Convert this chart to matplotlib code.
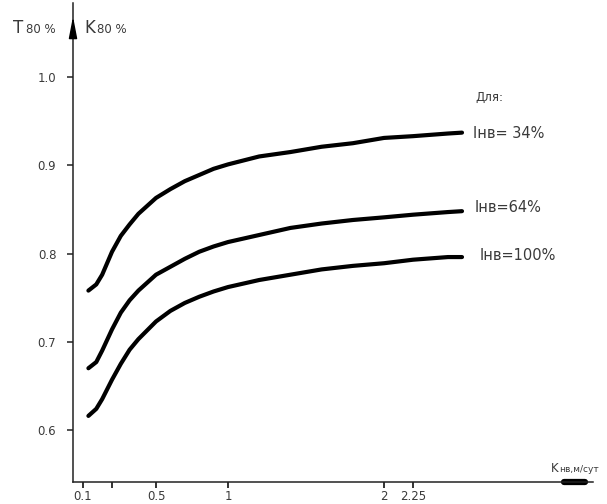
import numpy as np
import matplotlib
matplotlib.use('Agg')
import matplotlib.pyplot as plt

plt.rcParams['font.family'] = ['DejaVu Sans']

# K_nv, m/day (hand-drawn axis, marks are not evenly spaced)
k_nv = [0.13, 0.17, 0.2, 0.25, 0.3, 0.35, 0.4, 0.5, 0.6, 0.7, 0.8, 0.9,
        1.0, 1.2, 1.4, 1.6, 1.8, 2.0, 2.25, 2.5, 2.6]

t80_34 = [0.758, 0.765, 0.776, 0.802, 0.820, 0.833, 0.845, 0.863, 0.873, 0.882, 0.889,
          0.896, 0.901, 0.910, 0.915, 0.921, 0.925, 0.931, 0.933, 0.936, 0.937]
t80_64 = [0.670, 0.677, 0.690, 0.714, 0.733, 0.747, 0.758, 0.776, 0.785, 0.794, 0.802,
          0.808, 0.813, 0.821, 0.829, 0.834, 0.838, 0.841, 0.844, 0.847, 0.848]
t80_100 = [0.616, 0.624, 0.635, 0.657, 0.675, 0.691, 0.703, 0.723, 0.735, 0.744, 0.751,
           0.757, 0.762, 0.770, 0.776, 0.782, 0.786, 0.789, 0.793, 0.796, 0.796]

x_ticks = [0.1, 0.25, 0.5, 1, 2, 2.25]
x_ticklabels = ['0.1', '', '0.5', '1', '2', '2.25']
y_ticks = [0.6, 0.7, 0.8, 0.9, 1.0]
y_ticklabels = ['0.6', '0.7', '0.8', '0.9', '1.0']

# uneven spacing of the original drawing: value -> drawing position
scale_val = [-1, 0, 0.1, 0.25, 0.5, 1, 2, 2.25, 5]
scale_pos = [-88, 67, 82.5, 112, 156, 228, 384, 413, 798]


def fwd(x):
    return np.interp(x, scale_val, scale_pos)


def inv(p):
    return np.interp(p, scale_pos, scale_val)


txt = '#3a3a3a'

fig = plt.figure(figsize=(6.07, 5.04), dpi=100)
ax = fig.add_axes([73/607, 22/504, 520/607, 479/504])
ax.set_xscale('function', functions=(fwd, inv))

for ys in (t80_34, t80_64, t80_100):
    ax.plot(k_nv, ys, color='black', lw=3, solid_capstyle='round')

ax.set_xlim(inv(73), inv(593))
ax.set_ylim(0.5411, 1.0839)

ax.spines['top'].set_visible(False)
ax.spines['right'].set_visible(False)
for s in ('left', 'bottom'):
    ax.spines[s].set_linewidth(1.1)
    ax.spines[s].set_color('#222222')

ax.set_xticks(x_ticks)
ax.set_xticklabels(x_ticklabels)
ax.xaxis.set_minor_locator(matplotlib.ticker.NullLocator())
ax.set_yticks(y_ticks)
ax.set_yticklabels(y_ticklabels)
ax.tick_params(axis='x', direction='out', length=4, width=1.3, pad=2,
               labelsize=8.5, labelcolor=txt, color='#222222')
ax.tick_params(axis='y', direction='out', length=4, width=1.1, pad=8,
               labelsize=8.5, labelcolor=txt, color='#222222')

# arrow heads of the axes
ax.annotate('', xy=(0, 0.972), xytext=(0, 0.928), xycoords='axes fraction',
            arrowprops=dict(arrowstyle='-|>,head_length=1.3,head_width=0.25',
                            color='black', lw=1.1, shrinkA=0, shrinkB=0))
ax.plot([0.945, 0.985], [0, 0], transform=ax.transAxes, color='black',
        lw=4.5, solid_capstyle='round', clip_on=False)

# axis titles
fig.text(13/607, 1 - 33/504, 'T', fontsize=12, color=txt, va='baseline')
fig.text(26/607, 1 - 33/504, '80 %', fontsize=8.5, color=txt, va='baseline')
fig.text(84/607, 1 - 33/504, 'K', fontsize=12, color=txt, va='baseline')
fig.text(97/607, 1 - 33/504, '80 %', fontsize=8.5, color=txt, va='baseline')
fig.text(551/607, 1 - 472/504, 'K', fontsize=8.5, color=txt, va='baseline')
fig.text(559/607, 1 - 472/504, 'нв,м/сут', fontsize=6.5, color=txt, va='baseline')

# curve labels
fig.text(475/607, 1 - 101/504, 'Для:', fontsize=8.5, color=txt, va='baseline')
fig.text(473/607, 1 - 133/504, 'Iнв= 34%', fontsize=10.5, color=txt, va='center')
fig.text(475/607, 1 - 207/504, 'Iнв=64%', fontsize=10.5, color=txt, va='center')
fig.text(480/607, 1 - 256/504, 'Iнв=100%', fontsize=10.5, color=txt, va='center')

fig.savefig('out.png', dpi=100)
